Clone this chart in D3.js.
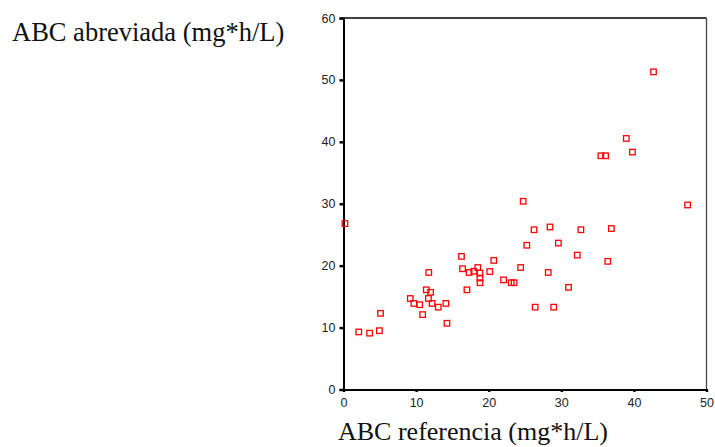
<!DOCTYPE html>
<html>
<head>
<meta charset="utf-8">
<script src="https://cdn.jsdelivr.net/npm/d3@7"></script>
<style>
  body { margin: 0; background: #fff; }
  svg { display: block; }
</style>
</head>
<body>
<svg id="chart" width="715" height="447"></svg>
<script>
// ABC referencia (x) vs ABC abreviada (y), mg*h/L
var xValues = [0.2, 2.1, 3.6, 4.95, 5.1, 9.2, 9.7, 10.5, 10.9, 11.4, 11.7, 11.75, 12.0, 12.2, 13.05, 14.1, 14.25,
    16.25, 16.4, 17.0, 17.3, 17.95, 18.5, 18.8, 18.8, 18.8, 20.15, 20.7, 22.05, 23.1, 23.5, 24.4, 24.75,
    25.25, 26.25, 26.4, 28.2, 28.45, 28.95, 29.6, 31.0, 32.2, 32.7, 35.45, 36.1, 36.4, 36.9, 38.95, 39.8,
    42.7, 47.4];
var yValues = [26.8, 9.3, 9.1, 9.5, 12.3, 14.7, 13.9, 13.7, 12.1, 16.1, 14.7, 18.9, 15.7, 13.9, 13.3, 13.9, 10.7,
    21.5, 19.5, 16.1, 18.9, 19.1, 19.7, 18.8, 18.0, 17.25, 19.05, 20.85, 17.7, 17.25, 17.25, 19.7, 30.4,
    23.3, 25.8, 13.3, 18.9, 26.25, 13.3, 23.65, 16.5, 21.7, 25.8, 37.75, 37.75, 20.7, 26.0, 40.55, 38.35,
    51.3, 29.8];
var xTicks = [0, 10, 20, 30, 40, 50];
var yTicks = [0, 10, 20, 30, 40, 50, 60];
var xTitle = 'ABC referencia (mg*h/L)';
var yTitle = 'ABC abreviada (mg*h/L)';

var margin = {left: 343.5, right: 8.5, top: 18, bottom: 57.5},
    width = 715,
    height = 447,
    markerSize = 5.5,
    markerColor = '#ff0000';

var svg = d3.select('#chart');

var x = d3.scaleLinear()
    .domain([0, 50])
    .range([margin.left, width - margin.right]);

var y = d3.scaleLinear()
    .domain([0, 60])
    .range([height - margin.bottom, margin.top]);

// frame: top and right lines are thin
svg.append('line')
    .attr('x1', x(0)).attr('x2', x(50))
    .attr('y1', y(60)).attr('y2', y(60))
    .attr('stroke', '#000')
    .attr('stroke-width', 1.3);

svg.append('line')
    .attr('x1', x(50)).attr('x2', x(50))
    .attr('y1', y(60)).attr('y2', y(0))
    .attr('stroke', '#444')
    .attr('stroke-width', 1.3);

var xAxis = svg.append('g')
    .attr('transform', 'translate(0,' + y(0) + ')')
    .call(d3.axisBottom(x).tickValues(xTicks).tickSize(2.5).tickPadding(6));

var yAxis = svg.append('g')
    .attr('transform', 'translate(' + x(0) + ',0)')
    .call(d3.axisLeft(y).tickValues(yTicks).tickSize(4).tickPadding(4));

[xAxis, yAxis].forEach(function(g) {
    g.select('.domain')
        .attr('stroke', '#000')
        .attr('stroke-width', 2);
    g.selectAll('.tick line')
        .attr('stroke', '#000')
        .attr('stroke-width', 2.5);
    g.selectAll('.tick text')
        .attr('fill', '#222')
        .style('font-family', 'Liberation Sans, Arial, sans-serif')
        .style('font-size', '12.5px');
});

svg.selectAll('rect.point')
    .data(xValues)
    .enter()
    .append('rect')
    .attr('class', 'point')
    .attr('x', function(d) { return x(d) - markerSize / 2; })
    .attr('y', function(d, i) { return y(yValues[i]) - markerSize / 2; })
    .attr('width', markerSize)
    .attr('height', markerSize)
    .attr('fill', 'none')
    .attr('stroke', markerColor)
    .attr('stroke-width', 1.3);

svg.append('text')
    .attr('x', 12)
    .attr('y', 41)
    .style('font-family', 'Liberation Serif, Times New Roman, serif')
    .style('font-size', '26.5px')
    .attr('fill', '#111')
    .text(yTitle);

svg.append('text')
    .attr('x', 338)
    .attr('y', 440)
    .style('font-family', 'Liberation Serif, Times New Roman, serif')
    .style('font-size', '26px')
    .attr('fill', '#111')
    .text(xTitle);
</script>
</body>
</html>
